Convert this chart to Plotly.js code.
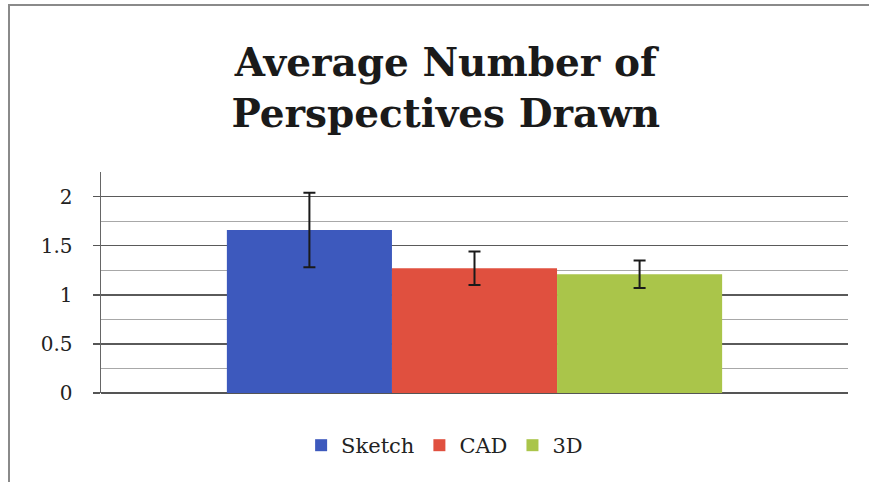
<!DOCTYPE html>
<html>
<head>
<meta charset="utf-8">
<script src="https://cdn.plot.ly/plotly-3.0.1.min.js"></script>
<style>
  html, body { margin: 0; padding: 0; background: #fff; }
  #frame { position: absolute; left: 8px; top: 4px; width: 900px; height: 520px;
           border-left: 2px solid #8a8a8a; border-top: 2px solid #8a8a8a; }
  #chart { position: absolute; left: 0; top: 0; width: 869px; height: 482px; }
</style>
</head>
<body>
<div id="frame"></div>
<div id="chart"></div>
<script>
const categories = [""];
const seriesNames = ["Sketch", "CAD", "3D"];
const seriesValues = [1.66, 1.27, 1.21];
const seriesErrors = [0.38, 0.17, 0.14];
const seriesColors = ["#3d59bd", "#e0503f", "#aac54a"];
const titleText = "Average Number of<br>Perspectives Drawn";
const yTickVals = [0, 0.5, 1, 1.5, 2];
const yTickText = ["0", "0.5", "1", "1.5", "2"];

const serif = "'DejaVu Serif', 'Liberation Serif', serif";

const traces = seriesNames.map((name, i) => ({
  type: "bar",
  name: name,
  x: categories,
  y: [seriesValues[i]],
  marker: { color: seriesColors[i], line: { width: 0 } },
  error_y: { type: "data", array: [seriesErrors[i]], visible: true,
             color: "#1a1a1a", thickness: 2, width: 6 },
  hoverinfo: "y"
}));

const layout = {
  width: 869, height: 482,
  margin: { l: 101, r: 21, t: 172, b: 89 },
  paper_bgcolor: "rgba(0,0,0,0)",
  plot_bgcolor: "rgba(0,0,0,0)",
  barmode: "group",
  bargap: 0.337,
  bargroupgap: 0,
  title: {
    text: titleText,
    font: { family: serif, size: 39, color: "#1a1a1a", weight: "bold" },
    x: 0.513, xanchor: "center",
    y: 0.842, yanchor: "bottom"
  },
  xaxis: {
    showticklabels: false, ticks: "", showgrid: false, zeroline: false, showline: false
  },
  yaxis: {
    range: [0, 2.25],
    tickvals: yTickVals, ticktext: yTickText,
    ticks: "outside", ticklen: 7, tickcolor: "#555", tickwidth: 1.5,
    ticklabelstandoff: 16,
    tickfont: { family: serif, size: 20, color: "#222" },
    showgrid: true, gridcolor: "#5a5a5a", gridwidth: 1.5,
    zeroline: true, zerolinecolor: "#555", zerolinewidth: 1.5,
    showline: true, linecolor: "#666", linewidth: 1.5,
    minor: { dtick: 0.25, showgrid: true, gridcolor: "#a8a8a8", gridwidth: 1.2, ticks: "" }
  },
  legend: {
    orientation: "h", x: 0.46, xanchor: "center", y: -0.145, yanchor: "top",
    font: { family: serif, size: 21, color: "#222" },
    itemwidth: 30, traceorder: "normal"
  },
  showlegend: true
};

Plotly.newPlot("chart", traces, layout, { displayModeBar: false, staticPlot: true });
</script>
</body>
</html>
